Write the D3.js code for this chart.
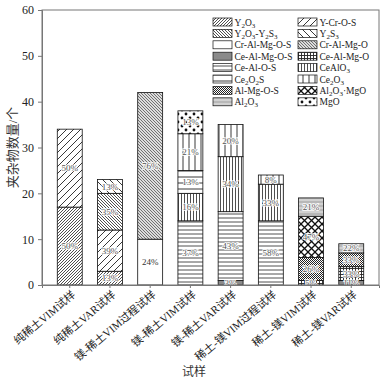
<!DOCTYPE html>
<html>
<head>
<meta charset="utf-8">
<script src="https://cdn.jsdelivr.net/npm/d3@7"></script>
<style>
  body { margin: 0; background: #fff; }
  text { font-family: "Liberation Serif", "Noto Sans CJK SC", serif; }
</style>
</head>
<body>
<div id="chart"></div>
<script>
// samples on the x axis
const samples = ["纯稀土VIM试样", "纯稀土VAR试样", "镁-稀土VIM过程试样", "镁-稀土VIM试样",
  "镁-稀土VAR试样", "稀土-镁VIM过程试样", "稀土-镁VIM试样", "稀土-镁VAR试样"];

// inclusion phases (legend order, also stacking order)
const phases = ["Y2O3", "Y-Cr-O-S", "Y2O3-Y2S3", "Y2S3", "Cr-Al-Mg-O-S", "Cr-Al-Mg-O",
  "Ce-Al-Mg-O-S", "Ce-Al-Mg-O", "Ce-Al-O-S", "CeAlO3", "Ce2O2S", "Ce2O3",
  "Al-Mg-O-S", "Al2O3·MgO", "Al2O3", "MgO"];

// number of inclusions, one row per phase, one column per sample
const counts = [
  [17, 3, 0, 0, 0, 0, 0, 0],   // Y2O3
  [17, 9, 0, 0, 0, 0, 0, 0],   // Y-Cr-O-S
  [0, 8, 0, 0, 0, 0, 0, 0],    // Y2O3-Y2S3
  [0, 3, 0, 0, 0, 0, 0, 0],    // Y2S3
  [0, 0, 10, 0, 0, 0, 0, 0],   // Cr-Al-Mg-O-S
  [0, 0, 32, 0, 0, 0, 0, 0],   // Cr-Al-Mg-O
  [0, 0, 0, 0, 1, 0, 0, 1],    // Ce-Al-Mg-O-S
  [0, 0, 0, 0, 0, 0, 1, 3],    // Ce-Al-Mg-O
  [0, 0, 0, 14, 15, 14, 0, 0], // Ce-Al-O-S
  [0, 0, 0, 6, 12, 8, 0, 0],   // CeAlO3
  [0, 0, 0, 5, 0, 0, 0, 0],    // Ce2O2S
  [0, 0, 0, 8, 7, 2, 0, 0],    // Ce2O3
  [0, 0, 0, 0, 0, 0, 5, 3],    // Al-Mg-O-S
  [0, 0, 0, 0, 0, 0, 9, 0],    // Al2O3·MgO
  [0, 0, 0, 0, 0, 0, 4, 2],    // Al2O3
  [0, 0, 0, 5, 0, 0, 0, 0]     // MgO
];

const yTicks = [0, 10, 20, 30, 40, 50, 60];

const W = 389, H = 384;
const margin = { top: 10, right: 10, bottom: 99, left: 42 };

const svg = d3.select("#chart").append("svg")
  .attr("width", W).attr("height", H);

// ---- fill patterns for each phase
const defs = svg.append("defs");
function pat(id, w, h, bg, draw) {
  const p = defs.append("pattern").attr("id", id)
    .attr("patternUnits", "userSpaceOnUse")
    .attr("width", w).attr("height", h);
  p.append("rect").attr("width", w).attr("height", h).attr("fill", bg);
  if (draw) draw(p);
}
function fwd(s, col, sw) {
  return p => p.append("path")
    .attr("d", `M0,${s}L${s},0M-1,1L1,-1M${s - 1},${s + 1}L${s + 1},${s - 1}`)
    .attr("stroke", col).attr("stroke-width", sw);
}
function back(s, col, sw) {
  return p => p.append("path")
    .attr("d", `M0,0L${s},${s}M-1,${s - 1}L1,${s + 1}M${s - 1},-1L${s + 1},1`)
    .attr("stroke", col).attr("stroke-width", sw);
}
function horiz(s, col, sw) {
  return p => p.append("path").attr("d", `M0,${s / 2}H${s}`)
    .attr("stroke", col).attr("stroke-width", sw);
}
function vert(s, col, sw) {
  return p => p.append("path").attr("d", `M${s / 2},0V${s}`)
    .attr("stroke", col).attr("stroke-width", sw);
}

pat("p0", 3, 3, "#fff", fwd(3, "#222", 0.8));
pat("p1", 7, 7, "#fff", fwd(7, "#222", 0.9));
pat("p2", 3, 3, "#fff", back(3, "#222", 0.8));
pat("p3", 7, 7, "#fff", back(7, "#222", 0.9));
pat("p4", 4, 4, "#fff");
pat("p5", 3, 3, "#ddd", back(3, "#555", 0.8));
pat("p6", 4, 4, "#8a8a8a");
pat("p7", 3, 3, "#fff", p => {
  p.append("path").attr("d", "M0,1.5H3M1.5,0V3").attr("stroke", "#222").attr("stroke-width", 0.9);
});
pat("p8", 4, 4, "#fff", horiz(4, "#222", 0.8));
pat("p9", 3, 3, "#fff", vert(3, "#222", 0.8));
pat("p10", 6, 6, "#fff", horiz(6, "#222", 0.9));
pat("p11", 6, 6, "#fff", vert(6, "#222", 0.9));
pat("p12", 2, 2, "#fff", p => {
  p.append("rect").attr("width", 1).attr("height", 1).attr("fill", "#222");
  p.append("rect").attr("x", 1).attr("y", 1).attr("width", 1).attr("height", 1).attr("fill", "#222");
});
pat("p13", 7, 7, "#fff", p => {
  p.append("path").attr("d", "M0,0L7,7M7,0L0,7").attr("stroke", "#111").attr("stroke-width", 1.3);
});
pat("p14", 2, 4, "#eee", p => {
  p.append("path").attr("d", "M1,0V4").attr("stroke", "#999").attr("stroke-width", 0.7);
  p.append("path").attr("d", "M0,2H2").attr("stroke", "#888").attr("stroke-width", 0.7);
});
pat("p15", 8, 8, "#fff", p => {
  p.append("circle").attr("cx", 2).attr("cy", 2).attr("r", 1.4).attr("fill", "#111");
  p.append("circle").attr("cx", 6).attr("cy", 6).attr("r", 1.4).attr("fill", "#111");
});

// ---- scales
const x = d3.scaleBand().domain(samples)
  .range([margin.left, W - margin.right]).padding(0.38);
const y = d3.scaleLinear().domain([0, 60])
  .range([H - margin.bottom, margin.top]);

// ---- stacked data
const table = samples.map((s, j) => {
  const row = { sample: s };
  phases.forEach((ph, i) => { row[ph] = counts[i][j]; });
  return row;
});
const totals = samples.map((s, j) => d3.sum(counts, r => r[j]));
const stacked = d3.stack().keys(phases)(table);

const g = svg.append("g");
stacked.forEach((layer, i) => {
  layer.forEach((d, j) => {
    if (d[1] - d[0] <= 0) return;
    g.append("rect")
      .attr("x", x(samples[j]))
      .attr("y", y(d[1]))
      .attr("width", x.bandwidth())
      .attr("height", y(d[0]) - y(d[1]))
      .attr("fill", `url(#p${i})`)
      .attr("stroke", "#111")
      .attr("stroke-width", 0.8);
  });
});

// percent labels
stacked.forEach((layer, i) => {
  layer.forEach((d, j) => {
    const v = d[1] - d[0];
    if (v <= 0) return;
    g.append("text")
      .attr("x", x(samples[j]) + x.bandwidth() / 2)
      .attr("y", (y(d[0]) + y(d[1])) / 2)
      .attr("dy", "0.35em")
      .attr("text-anchor", "middle")
      .attr("font-size", 9)
      .attr("fill", i === 4 ? "#333" : "#555")
      .attr("stroke", i === 4 ? "none" : "#fff")
      .attr("stroke-width", 1.6)
      .attr("paint-order", "stroke")
      .text(Math.round(v / totals[j] * 100) + "%");
  });
});

// ---- frame and axes
svg.append("rect")
  .attr("x", margin.left).attr("y", margin.top)
  .attr("width", W - margin.left - margin.right)
  .attr("height", H - margin.top - margin.bottom)
  .attr("fill", "none").attr("stroke", "#777").attr("stroke-width", 1);

const yAxis = svg.append("g")
  .attr("transform", `translate(${margin.left},0)`)
  .call(d3.axisLeft(y).tickValues(yTicks).tickSize(4).tickPadding(4));
yAxis.select(".domain").attr("stroke", "#777");
yAxis.selectAll(".tick line").attr("stroke", "#777");
yAxis.selectAll("text").attr("font-size", 12).attr("fill", "#222")
  .style("font-family", "'Liberation Serif', serif");

const xAxis = svg.append("g")
  .attr("transform", `translate(0,${H - margin.bottom})`)
  .call(d3.axisBottom(x).tickSize(3).tickFormat(d => ""));
xAxis.select(".domain").attr("stroke", "#777");
xAxis.selectAll(".tick line").attr("stroke", "#777");

samples.forEach(s => {
  svg.append("text")
    .attr("transform", `translate(${x(s) + x.bandwidth() / 2 + 4},${H - margin.bottom + 8}) rotate(-40)`)
    .attr("text-anchor", "end")
    .attr("dy", "0.35em")
    .attr("font-size", 11)
    .attr("fill", "#222")
    .text(s);
});

svg.append("text")
  .attr("transform", `translate(17,${(margin.top + H - margin.bottom) / 2}) rotate(-90)`)
  .attr("text-anchor", "middle")
  .attr("font-size", 13)
  .attr("fill", "#333")
  .text("夹杂物数量/个");

svg.append("text")
  .attr("x", 194).attr("y", 376)
  .attr("text-anchor", "middle")
  .attr("font-size", 12)
  .attr("fill", "#333")
  .text("试样");

// ---- legend
const legend = svg.append("g");
phases.forEach((ph, i) => {
  const col = i % 2, row = Math.floor(i / 2);
  const lx = col === 0 ? 213 : 298;
  const ly = 18 + row * 11.4;
  legend.append("rect")
    .attr("x", lx).attr("y", ly)
    .attr("width", 19).attr("height", 8)
    .attr("fill", `url(#p${i})`)
    .attr("stroke", "#111").attr("stroke-width", 0.7);
  const t = legend.append("text")
    .attr("x", lx + 21.5).attr("y", ly + 7.5)
    .attr("font-size", 9.5)
    .attr("fill", "#222");
  // digits after a letter become subscripts
  const parts = ph.match(/[A-Za-z\-·]+|\d/g);
  let sub = false;
  parts.forEach(part => {
    const isDigit = /\d/.test(part);
    const ts = t.append("tspan").text(part);
    if (isDigit && !sub) { ts.attr("dy", 2).attr("font-size", 7); sub = true; }
    else if (isDigit) { ts.attr("font-size", 7); }
    else if (sub) { ts.attr("dy", -2); sub = false; }
  });
});
</script>
</body>
</html>
